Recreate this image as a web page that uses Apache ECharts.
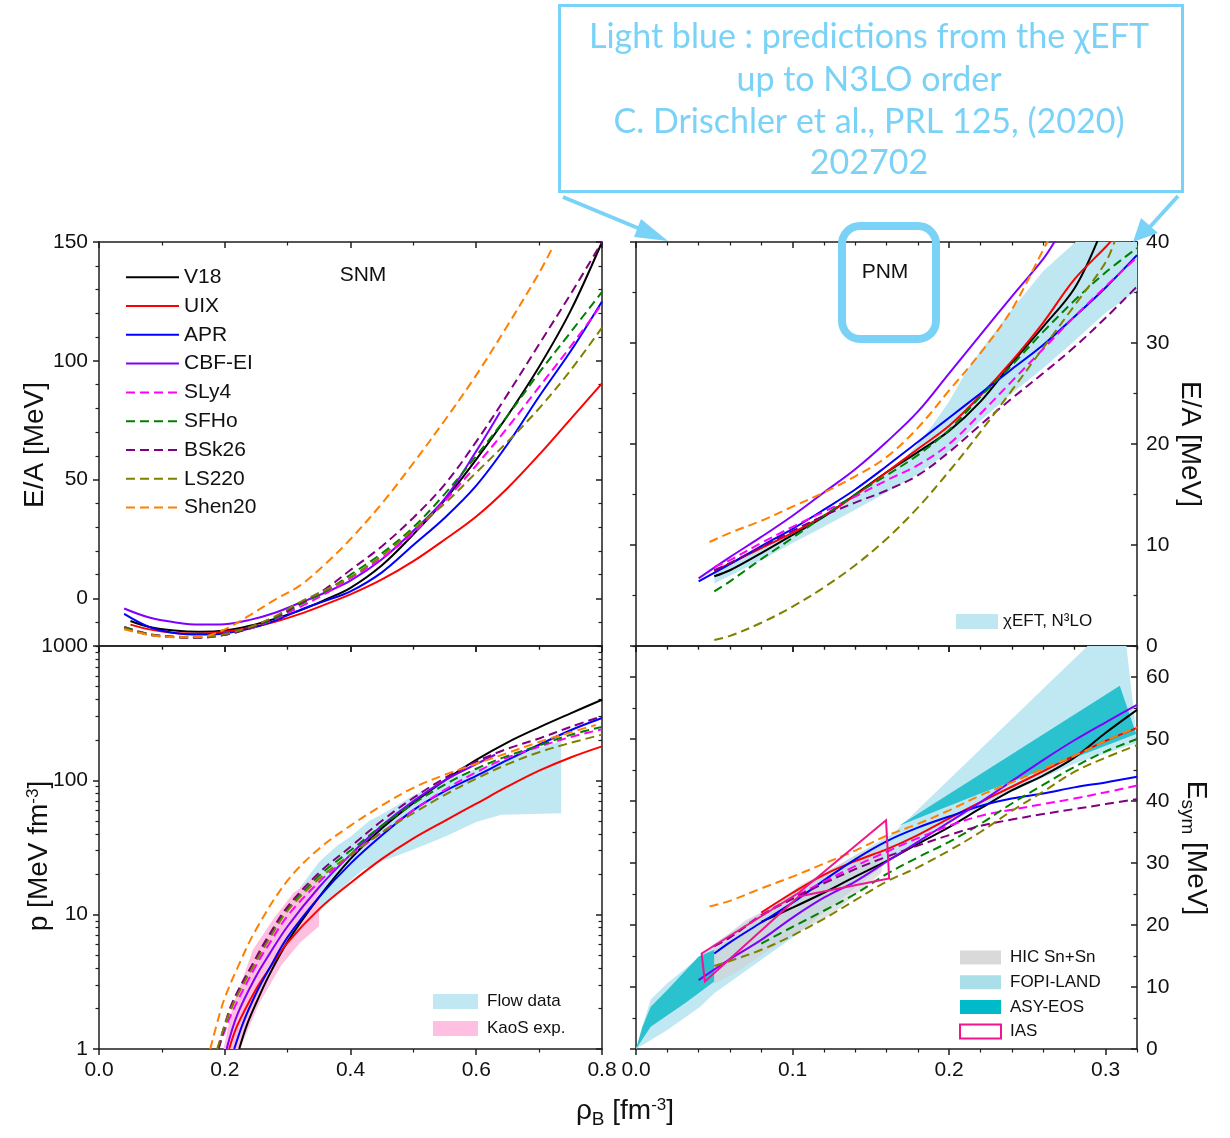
<!DOCTYPE html>
<html><head><meta charset="utf-8">
<script src="https://cdn.jsdelivr.net/npm/echarts@6/dist/echarts.min.js"></script>
<style>html,body{margin:0;padding:0;background:#fff}#c{width:1230px;height:1138px}</style>
</head><body><div id="c"></div><script>
// ---------- categories / legend names ----------
const modelNames = ['V18','UIX','APR','CBF-EI','SLy4','SFHo','BSk26','LS220','Shen20'];
const modelColors = ['#000000','#ff0000','#0000ff','#8000ff','#ff00ff','#008000','#800080','#808000','#ff8000'];
const modelDashed = [false,false,false,false,true,true,true,true,true];

// ---------- tick labels ----------
const xTicksLeft = [0,0.2,0.4,0.6,0.8];
const xMinorLeft = [0.1,0.3,0.5,0.7];
const xTicksRight = [0,0.1,0.2,0.3];
const xMinorRight = [0.02,0.04,0.06,0.08,0.12,0.14,0.16,0.18,0.22,0.24,0.26,0.28,0.32];
const yTicksSNM = [0,50,100,150];
const yMinorSNM = [-20,-10,10,20,30,40,60,70,80,90,110,120,130,140];
const yTicksPNM = [0,10,20,30,40];
const yMinorPNM = [5,15,25,35];
const yTicksP = [1,10,100,1000];
const yMinorP = [2,3,4,5,6,7,8,9,20,30,40,50,60,70,80,90,200,300,400,500,600,700,800,900];
const yTicksEsym = [0,10,20,30,40,50,60];
const yMinorEsym = [5,15,25,35,45,55,65];

// ---------- SNM E/A ----------
const snm_V18 = [[0.05,-9.5],[0.08,-12],[0.12,-13.5],[0.16,-14],[0.2,-13.5],[0.24,-11.5],[0.28,-8.5],[0.32,-5],[0.36,-0.5],[0.4,4.5],[0.45,14],[0.5,27],[0.55,41.5],[0.6,58.5],[0.65,77],[0.7,97.5],[0.75,121],[0.8,150]];
const snm_UIX = [[0.05,-11],[0.08,-13],[0.12,-14.5],[0.16,-14.8],[0.2,-14],[0.24,-12.3],[0.28,-9.8],[0.32,-6.5],[0.36,-2.5],[0.4,1.7],[0.45,8],[0.5,15.7],[0.55,24.8],[0.6,34.5],[0.65,46.5],[0.7,60.5],[0.75,75.5],[0.8,90.5]];
const snm_APR = [[0.04,-6.5],[0.08,-12],[0.12,-14.5],[0.16,-15.2],[0.2,-14.7],[0.24,-12.7],[0.28,-9.3],[0.32,-4.8],[0.36,-1],[0.4,3],[0.45,11],[0.5,22.5],[0.55,34],[0.6,47.5],[0.65,65],[0.7,85],[0.75,104],[0.8,125]];
const snm_CBF = [[0.04,-4.2],[0.08,-8],[0.12,-10],[0.16,-11],[0.2,-10.8],[0.24,-9],[0.28,-6],[0.32,-1.8],[0.36,2.5],[0.4,7.5],[0.45,16.5],[0.5,28.5],[0.55,42],[0.6,62],[0.638,78.5]];
const snm_SLy4 = [[0.04,-12],[0.08,-15],[0.12,-16],[0.16,-16.2],[0.2,-15.2],[0.24,-12.7],[0.28,-8.7],[0.32,-3.5],[0.36,2],[0.4,8.5],[0.45,17],[0.5,27.5],[0.55,41],[0.6,56],[0.65,72],[0.7,89],[0.75,106],[0.8,124]];
const snm_SFHo = [[0.04,-12],[0.08,-15],[0.12,-16.2],[0.16,-16.4],[0.2,-15.3],[0.24,-12.5],[0.28,-8.3],[0.32,-2.5],[0.36,3],[0.4,10],[0.45,19],[0.5,30],[0.55,44],[0.6,60],[0.65,77],[0.7,95],[0.75,112],[0.8,129]];
const snm_BSk26 = [[0.04,-12.5],[0.08,-15.3],[0.12,-16.3],[0.16,-16.5],[0.2,-15.3],[0.24,-12.3],[0.28,-7.8],[0.32,-2],[0.36,4],[0.4,12],[0.45,22],[0.5,34],[0.55,48],[0.6,66],[0.65,86],[0.7,107],[0.75,128],[0.8,150]];
const snm_LS220 = [[0.04,-12.5],[0.08,-15.2],[0.12,-16.2],[0.16,-16.3],[0.2,-15],[0.24,-12],[0.28,-7.5],[0.32,-1.5],[0.36,3.5],[0.4,9],[0.45,18],[0.5,29],[0.55,40],[0.6,53],[0.65,66],[0.7,80],[0.75,96],[0.8,114]];
const snm_Shen20 = [[0.04,-13],[0.08,-15.3],[0.12,-16.3],[0.16,-16.2],[0.2,-13],[0.24,-7],[0.28,-0.5],[0.32,5.5],[0.36,14.5],[0.4,25],[0.45,40],[0.5,57],[0.55,75],[0.6,94],[0.65,115],[0.7,137],[0.72,147]];

// ---------- PNM E/A ----------
const pnm_V18 = [[0.05,6.9],[0.06,7.5],[0.08,9.2],[0.1,11],[0.12,12.8],[0.14,15],[0.16,17.2],[0.18,19.2],[0.2,21.3],[0.22,24.2],[0.24,28],[0.26,31.6],[0.28,35.4],[0.295,40.2]];
const pnm_UIX = [[0.05,7.4],[0.08,9.7],[0.1,11.2],[0.12,12.9],[0.14,14.9],[0.16,17.2],[0.18,19.5],[0.2,21.8],[0.22,24.8],[0.24,28.2],[0.26,32],[0.28,36.3],[0.3,39.5],[0.304,40.2]];
const pnm_APR = [[0.04,6.4],[0.06,8.1],[0.08,9.9],[0.1,11.6],[0.12,13.5],[0.14,15.5],[0.16,17.8],[0.18,20.2],[0.2,22.6],[0.22,25],[0.24,27.4],[0.26,29.8],[0.28,32.6],[0.3,35.5],[0.32,38.7]];
const pnm_CBF = [[0.04,6.7],[0.06,8.8],[0.08,10.8],[0.1,12.9],[0.12,15.2],[0.14,17.5],[0.16,20.2],[0.18,23.2],[0.2,27],[0.22,30.8],[0.24,34.6],[0.26,38.3],[0.268,40.2]];
const pnm_SLy4 = [[0.05,7.8],[0.06,8.5],[0.08,10.2],[0.1,11.8],[0.12,13.3],[0.14,14.8],[0.16,16.4],[0.18,17.9],[0.2,20],[0.22,23],[0.24,26.2],[0.26,29.4],[0.28,32.6],[0.3,35.6],[0.32,38.5]];
const pnm_SFHo = [[0.05,5.4],[0.06,6.4],[0.08,8.6],[0.1,10.7],[0.12,12.9],[0.14,15],[0.16,16.9],[0.18,18.9],[0.2,21.4],[0.22,24.7],[0.24,27.8],[0.26,31.1],[0.28,34.2],[0.3,37],[0.32,39.4]];
const pnm_BSk26 = [[0.05,7.5],[0.06,8.2],[0.08,9.8],[0.1,11.4],[0.12,12.9],[0.14,14.2],[0.16,15.4],[0.18,16.9],[0.2,19.2],[0.22,21.9],[0.24,24.5],[0.26,27],[0.28,29.6],[0.3,32.5],[0.32,35.6]];
const pnm_LS220 = [[0.05,0.6],[0.06,1],[0.08,2.3],[0.1,3.9],[0.12,5.8],[0.14,8],[0.16,10.6],[0.18,13.7],[0.2,17.3],[0.22,21.2],[0.24,25.3],[0.26,29.5],[0.28,33.7],[0.3,38],[0.306,40.2]];
const pnm_Shen20 = [[0.047,10.3],[0.06,11.2],[0.08,12.4],[0.1,13.8],[0.12,15.2],[0.14,16.8],[0.16,18.7],[0.18,21.6],[0.2,25.3],[0.22,29],[0.24,33.3],[0.262,39.8],[0.264,40.3]];
const pnm_chiEFT = [[0.05,7.6],[0.08,9.8],[0.1,11.3],[0.12,12.9],[0.14,14.9],[0.16,17],[0.17,18.3],[0.18,20],[0.19,22],[0.2,24.2],[0.211,27.2],[0.22,29.2],[0.24,33.3],[0.26,37.1],[0.285,40.6],[0.32,40.6],[0.32,35.2],[0.3,33],[0.28,30.2],[0.26,27.5],[0.24,25],[0.22,22.3],[0.2,19.3],[0.18,17],[0.16,15.2],[0.14,13.5],[0.12,11.8],[0.1,10.2],[0.08,8.5],[0.05,6.2]];

// ---------- SNM pressure ----------
const p_V18 = [[0.223,1],[0.235,1.5],[0.25,2.2],[0.27,3.5],[0.3,6.3],[0.35,13.5],[0.4,26],[0.45,44],[0.5,68],[0.55,100],[0.6,142],[0.65,192],[0.7,248],[0.75,315],[0.8,398]];
const p_UIX = [[0.207,1],[0.22,1.5],[0.25,2.8],[0.27,3.9],[0.3,6.2],[0.35,11],[0.4,17.2],[0.45,26],[0.5,37],[0.55,50],[0.6,67],[0.65,90],[0.7,118],[0.75,148],[0.8,179]];
const p_APR = [[0.215,1],[0.23,1.6],[0.25,2.6],[0.27,3.9],[0.3,6.8],[0.35,13.5],[0.4,24],[0.45,39],[0.5,60],[0.55,83],[0.6,108],[0.65,142],[0.7,184],[0.75,236],[0.8,291]];
const p_CBF = [[0.203,1],[0.22,1.8],[0.25,3.5],[0.27,5],[0.3,8.2],[0.35,16],[0.4,28],[0.45,46],[0.5,70],[0.55,100],[0.6,132],[0.63,155]];
const p_SLy4 = [[0.19,1],[0.21,1.8],[0.25,4.2],[0.27,6],[0.3,9.8],[0.35,17.5],[0.4,27.5],[0.45,41],[0.5,60],[0.55,85],[0.6,115],[0.65,148],[0.7,178],[0.75,210],[0.8,240]];
const p_SFHo = [[0.19,1],[0.21,2],[0.25,4.7],[0.27,6.8],[0.3,11],[0.35,19.5],[0.4,30],[0.45,46],[0.5,67],[0.55,93],[0.6,122],[0.65,152],[0.7,182],[0.75,218],[0.8,250]];
const p_BSk26 = [[0.19,1],[0.21,2.1],[0.25,4.8],[0.27,7],[0.3,11.5],[0.35,20.5],[0.4,32],[0.45,50],[0.5,74],[0.55,104],[0.6,138],[0.65,172],[0.7,205],[0.75,250],[0.8,300]];
const p_LS220 = [[0.188,1],[0.21,2],[0.25,4.5],[0.27,6.5],[0.3,10.7],[0.35,18.5],[0.4,28],[0.45,41],[0.5,57],[0.55,78],[0.6,103],[0.65,132],[0.7,162],[0.75,190],[0.8,219]];
const p_Shen20 = [[0.177,1],[0.19,1.7],[0.2,2.4],[0.22,4],[0.25,7.8],[0.3,18],[0.35,31],[0.4,46],[0.45,65],[0.5,88],[0.55,110],[0.6,133],[0.65,160],[0.7,193],[0.75,228],[0.79,258]];
const p_flow = [[0.32,16],[0.351,25],[0.38,33],[0.4,38],[0.43,50],[0.45,56],[0.5,77],[0.55,100],[0.6,122],[0.65,145],[0.7,175],[0.735,195],[0.735,57],[0.64,55.5],[0.6,49],[0.55,38],[0.5,30.5],[0.45,25],[0.42,21.6],[0.4,18],[0.35,10.5],[0.32,8]];
const p_kaos = [[0.198,1],[0.213,2.1],[0.245,5.5],[0.277,9.2],[0.309,14.5],[0.318,15.5],[0.35,20.4],[0.35,8.2],[0.32,6.2],[0.29,4.2],[0.255,2.2],[0.224,1]];

// ---------- symmetry energy ----------
const es_V18 = [[0.08,20.5],[0.1,22.8],[0.12,25.2],[0.14,27.8],[0.16,30.3],[0.18,33.1],[0.2,35.8],[0.22,38.8],[0.24,41.7],[0.26,44.1],[0.28,47],[0.3,51],[0.32,54.7]];
const es_UIX = [[0.08,22],[0.1,25.2],[0.12,28.1],[0.14,30.3],[0.16,32.2],[0.18,34.5],[0.2,37.2],[0.22,39.8],[0.24,42.3],[0.26,44.8],[0.28,47.3],[0.3,49.7],[0.32,51.8]];
const es_APR = [[0.05,15.4],[0.06,17.2],[0.08,20.4],[0.1,23.6],[0.12,27.2],[0.14,30.6],[0.16,33.5],[0.18,35.7],[0.2,37.5],[0.22,39.2],[0.24,40.4],[0.26,41.2],[0.28,42.2],[0.3,43],[0.32,43.9]];
const es_CBF = [[0.04,11.1],[0.06,14.5],[0.08,17.6],[0.1,21.2],[0.12,24.4],[0.14,27],[0.16,30.2],[0.18,33.4],[0.2,36.6],[0.22,39.8],[0.24,43.2],[0.26,46.6],[0.28,49.8],[0.3,52.7],[0.32,55.5]];
const es_SLy4 = [[0.05,16.6],[0.06,18],[0.08,21.6],[0.1,24.4],[0.12,27],[0.14,29.5],[0.16,31.8],[0.18,34],[0.2,36],[0.22,37.6],[0.24,38.6],[0.26,39.5],[0.28,40.4],[0.3,41.4],[0.32,42.5]];
const es_SFHo = [[0.08,17],[0.1,19.7],[0.12,22.3],[0.14,25],[0.16,28.2],[0.18,30.9],[0.2,33.4],[0.22,36.3],[0.24,39.6],[0.26,42.6],[0.28,45.5],[0.3,48],[0.32,50]];
const es_BSk26 = [[0.05,16.6],[0.06,18],[0.08,21.5],[0.1,24.2],[0.12,26.7],[0.14,29],[0.16,31],[0.18,32.8],[0.2,34.5],[0.22,36],[0.24,37],[0.26,37.9],[0.28,38.7],[0.3,39.5],[0.32,40.3]];
const es_LS220 = [[0.05,13.4],[0.06,14.2],[0.08,16],[0.1,18.3],[0.12,21],[0.14,24],[0.16,27],[0.18,29.3],[0.2,32],[0.22,35],[0.24,38.4],[0.26,41.5],[0.28,44.7],[0.3,47],[0.32,49]];
const es_Shen20 = [[0.047,23],[0.06,23.9],[0.08,25.9],[0.1,27.8],[0.12,29.9],[0.14,32],[0.16,34.4],[0.18,36.3],[0.2,38.5],[0.22,40.9],[0.24,43],[0.26,45.2],[0.28,47.3],[0.3,49.7],[0.32,51.9]];
const es_fopi = [[0,0],[0.0045,4],[0.0094,8],[0.02,10.6],[0.041,14.9],[0.05,17],[0.1,25.5],[0.164,34.7],[0.2925,66],[0.3128,66],[0.319,52.1],[0.3195,49.3],[0.28,46],[0.24,41.5],[0.2,36.5],[0.16,30],[0.1,18],[0.05,9],[0.041,6.8],[0.02,3.06]];
const es_asyLow = [[0,0],[0.004,3.5],[0.0094,6.8],[0.02,9.5],[0.04,14.9],[0.05,16],[0.05,10.9],[0.0315,7.4],[0.0094,3.6]];
const es_asyHigh = [[0.168,36],[0.309,58.6],[0.3195,50.8],[0.275,46.5],[0.22,41.2]];
const es_hic = [[0.0498,16.6],[0.07,20.8],[0.0885,23],[0.105,26.5],[0.122,28.6],[0.143,31.6],[0.1566,33.2],[0.158,31],[0.1566,28.4],[0.126,21.9],[0.0945,17.6],[0.063,12.2],[0.0498,10.5]];
const es_ias = [[0.0419,15.4],[0.104,25.2],[0.1597,36.9],[0.1617,27.5],[0.104,24.6],[0.044,10.9]];

const snmData = [snm_V18,snm_UIX,snm_APR,snm_CBF,snm_SLy4,snm_SFHo,snm_BSk26,snm_LS220,snm_Shen20];
const pnmData = [pnm_V18,pnm_UIX,pnm_APR,pnm_CBF,pnm_SLy4,pnm_SFHo,pnm_BSk26,pnm_LS220,pnm_Shen20];
const pData = [p_V18,p_UIX,p_APR,p_CBF,p_SLy4,p_SFHo,p_BSk26,p_LS220,p_Shen20];
const esData = [es_V18,es_UIX,es_APR,es_CBF,es_SLy4,es_SFHo,es_BSk26,es_LS220,es_Shen20];

// ---------- styling ----------
const FONT = '"Liberation Sans", Arial, sans-serif';
const CALLFONT = 'Lato, "Open Sans", sans-serif';
const AX = '#1e1e1e';
const CALL = '#7ad3f7';
const grids = [
  {left:99, top:242, width:503, height:404},
  {left:636, top:242, width:501, height:404},
  {left:99, top:646, width:503, height:403},
  {left:636, top:646, width:501, height:403}
];
const fmt1 = v => v.toFixed(1);
const fmtPlain = v => String(v);
function axisPair(common, pos, majors, minors, labelOpt, inside) {
  const base = Object.assign({type:'value', splitLine:{show:false}, silent:true, axisPointer:{show:false}}, common);
  const major = Object.assign({}, base, {
    position: pos,
    axisLine:{show:true, onZero:false, lineStyle:{color:AX, width:1.5}},
    axisTick:{show:true, inside:inside, length:6, customValues:majors, lineStyle:{color:AX, width:1.5}},
    axisLabel: labelOpt ? Object.assign({show:true, customValues:majors, color:'#111', fontSize:21, fontFamily:FONT, formatter:fmtPlain}, labelOpt) : {show:false}
  });
  const minor = Object.assign({}, base, {
    position: pos,
    axisLine:{show:false, onZero:false},
    axisTick:{show:true, inside:inside, length:3.5, customValues:minors, lineStyle:{color:AX, width:1.2}},
    axisLabel:{show:false}
  });
  return [major, minor];
}
const xAxes = [], yAxes = [];
function addGrid(g, xc, xMaj, xMin, xLab, yc, yMaj, yMin, yLabLeft, yLabRight) {
  xAxes.push(...axisPair(Object.assign({gridIndex:g}, xc), 'bottom', xMaj, xMin, xLab, false));
  xAxes.push(...axisPair(Object.assign({gridIndex:g}, xc), 'top', xMaj, xMin, null, true));
  yAxes.push(...axisPair(Object.assign({gridIndex:g}, yc), 'left', yMaj, yMin, yLabLeft, false));
  yAxes.push(...axisPair(Object.assign({gridIndex:g}, yc), 'right', yMaj, yMin, yLabRight, true));
}
addGrid(0, {min:0,max:0.8}, xTicksLeft, xMinorLeft, null, {min:-20,max:150}, yTicksSNM, yMinorSNM, {margin:11}, null);
addGrid(1, {min:0,max:0.32}, xTicksRight, xMinorRight, null, {min:0,max:40}, yTicksPNM, yMinorPNM, null, {margin:9});
addGrid(2, {min:0,max:0.8}, xTicksLeft, xMinorLeft, {formatter:fmt1, margin:11}, {type:'log',logBase:10,min:1,max:1000}, yTicksP, yMinorP, {margin:11}, null);
addGrid(3, {min:0,max:0.32}, xTicksRight, xMinorRight, {formatter:fmt1, margin:11}, {min:0,max:65}, yTicksEsym, yMinorEsym, null, {margin:9});

const series = [];
function poly(name, pts, g, fill, opt) {
  opt = opt || {};
  series.push({
    type:'custom', name:name, xAxisIndex:4*g, yAxisIndex:4*g, clip:true, silent:true,
    z: opt.z || 1, data: pts, encode:{x:0, y:1},
    itemStyle:{color: opt.legendColor || fill},
    renderItem: function(params, api) {
      if (params.dataIndex !== 0) return null;
      const points = pts.map(p => api.coord(p));
      return {type:'polygon', shape:{points:points},
        style:{fill: fill, stroke: opt.stroke || null, lineWidth: opt.lw || 0}};
    }
  });
}
poly('χEFT, N³LO', pnm_chiEFT, 1, '#bfe7f2');
poly('Flow data', p_flow, 2, '#c0e8f3');
poly('KaoS exp.', p_kaos, 2, '#ffbfe0', {z:1.5});
poly('FOPI-LAND', es_fopi, 3, '#c0e8f3');
poly('ASY-EOS', es_asyLow, 3, '#2ac2cf', {z:1.2});
poly('ASY-EOS', es_asyHigh, 3, '#2ac2cf', {z:1.2});
poly('HIC Sn+Sn', es_hic, 3, 'rgba(208,208,208,0.62)', {z:1.4});

const panelData = [snmData, pnmData, pData, esData];
panelData.forEach((arr, g) => {
  arr.forEach((d, i) => {
    series.push({
      type:'line', name:modelNames[i], xAxisIndex:4*g, yAxisIndex:4*g, data:d,
      symbol:'none', showSymbol:false, smooth:0.35, clip:true, silent:true, z:2,
      lineStyle:{color:modelColors[i], width:2, type: modelDashed[i] ? [9,5] : 'solid'},
      itemStyle:{color:modelColors[i]}
    });
  });
});
poly('IAS', es_ias, 3, 'none', {z:3, stroke:'#f2148c', lw:2, legendColor:'#ffffff'});

const legTxt = {fontFamily:FONT, color:'#111'};
const legend = [
  {data:modelNames, orient:'vertical', left:125, top:266.7, itemWidth:53, itemHeight:14, itemGap:7.8,
   itemStyle:{opacity:0}, padding:0, selectedMode:false, textStyle:Object.assign({fontSize:21, lineHeight:21}, legTxt)},
  {data:[{name:'χEFT, N³LO', icon:'rect', itemStyle:{color:'#bfe7f2'}}], left:956, top:613, itemWidth:42, itemHeight:15,
   padding:0, selectedMode:false, textStyle:Object.assign({fontSize:17, lineHeight:17}, legTxt)},
  {data:[{name:'Flow data', icon:'rect', itemStyle:{color:'#c0e8f3'}},{name:'KaoS exp.', icon:'rect', itemStyle:{color:'#ffbfe0'}}],
   orient:'vertical', left:433, top:993, itemWidth:45, itemHeight:15, itemGap:10,
   padding:0, selectedMode:false, textStyle:Object.assign({fontSize:17, lineHeight:17, padding:[0,0,0,4]}, legTxt)},
  {data:[{name:'HIC Sn+Sn', icon:'rect', itemStyle:{color:'#d9d9d9'}},{name:'FOPI-LAND', icon:'rect', itemStyle:{color:'#aadfea'}},
         {name:'ASY-EOS', icon:'rect', itemStyle:{color:'#00b9c9'}},{name:'IAS', icon:'rect', itemStyle:{color:'#ffffff', borderColor:'#f2148c', borderWidth:2}}],
   orient:'vertical', left:959, top:949, itemWidth:41, itemHeight:14, itemGap:7.7,
   padding:0, selectedMode:false, textStyle:Object.assign({fontSize:17, lineHeight:17, padding:[0,0,0,4]}, legTxt)}
];

function txt(text, x, y, size, opts) {
  opts = opts || {};
  const el = {type:'text', x:x, y:y, z:100, silent:true,
    style:{text:text, fill:opts.color || '#111', fontSize:size, fontFamily:opts.family || FONT,
      align:'center', verticalAlign:'middle', legacy:false}};
  if (opts.rotation !== undefined) el.rotation = opts.rotation;
  return el;
}
function richTxt(text, x, y, rotation, rich) {
  return {type:'text', x:x, y:y, rotation:rotation, z:100, silent:true,
    style:{text:text, align:'center', verticalAlign:'middle', legacy:false, fill:'#111', fontSize:28, fontFamily:FONT, rich:rich}};
}
const rA = {fontSize:28, lineHeight:28, verticalAlign:'top', fontFamily:FONT, fill:'#111'};
const rSub = {fontSize:19, lineHeight:32, verticalAlign:'bottom', fontFamily:FONT, fill:'#111'};
const rSup = {fontSize:17, lineHeight:9, verticalAlign:'top', fontFamily:FONT, fill:'#111'};
const graphic = [
  {type:'rect', z:100, silent:true, shape:{x:559.5, y:5.5, width:623, height:186}, style:{fill:'none', stroke:CALL, lineWidth:3}},
  txt('Light blue : predictions from the χEFT', 869, 37, 34, {color:CALL, family:CALLFONT}),
  txt('up to N3LO order', 869, 80, 34, {color:CALL, family:CALLFONT}),
  txt('C. Drischler et al., PRL 125, (2020)', 869, 122, 34, {color:CALL, family:CALLFONT}),
  txt('202702', 869, 163, 34, {color:CALL, family:CALLFONT}),
  {type:'line', z:100, silent:true, shape:{x1:563, y1:197, x2:645, y2:231}, style:{stroke:CALL, lineWidth:4}},
  {type:'polygon', z:100, silent:true, shape:{points:[[668,241],[641,219],[634,237]]}, style:{fill:CALL}},
  {type:'line', z:100, silent:true, shape:{x1:1178, y1:196, x2:1149, y2:228}, style:{stroke:CALL, lineWidth:4}},
  {type:'polygon', z:100, silent:true, shape:{points:[[1133,242],[1141,218],[1158,233]]}, style:{fill:CALL}},
  {type:'rect', z:100, silent:true, shape:{x:842, y:226, width:94, height:113, r:18}, style:{fill:'none', stroke:CALL, lineWidth:8}},
  txt('SNM', 363, 275, 21),
  txt('PNM', 885, 272, 21),
  txt('E/A [MeV]', 35, 445, 28, {rotation:Math.PI/2}),
  txt('E/A [MeV]', 1189.5, 444, 28, {rotation:-Math.PI/2}),
  richTxt('{a|p [MeV fm}{s|-3}{a|]}', 39, 856, Math.PI/2, {a:rA, s:rSup}),
  richTxt('{a|E}{b|sym}{a| [MeV]}', 1193.5, 848, -Math.PI/2, {a:rA, b:rSub}),
  richTxt('{a|ρ}{b|B}{a| [fm}{s|-3}{a|]}', 625, 1113, 0, {a:rA, b:rSub, s:rSup})
];

const chart = echarts.init(document.getElementById('c'), null, {renderer:'canvas'});
chart.setOption({
  animation:false,
  backgroundColor:'#ffffff',
  grid:grids,
  xAxis:xAxes,
  yAxis:yAxes,
  legend:legend,
  series:series,
  graphic:graphic
});
</script></body></html>
